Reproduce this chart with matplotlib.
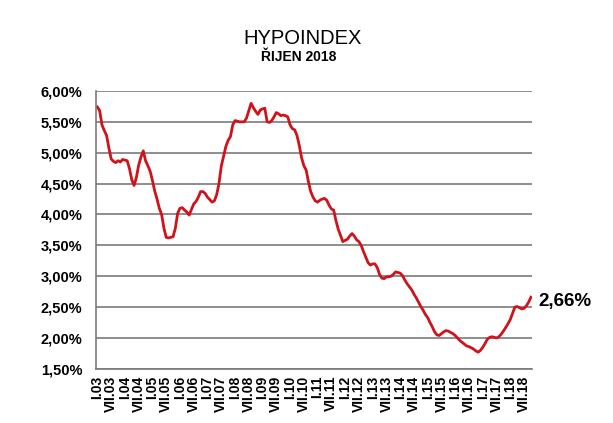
import numpy as np
import matplotlib.pyplot as plt
from matplotlib.ticker import FuncFormatter

# HYPOINDEX, monthly values I.2003 - X.2018 (in %)
y2003 = [5.74, 5.68, 5.45, 5.36, 5.28, 5.08, 4.90, 4.86, 4.84, 4.87, 4.85, 4.89]
y2004 = [4.88, 4.87, 4.74, 4.56, 4.47, 4.60, 4.80, 4.93, 5.03, 4.87, 4.79, 4.70]
y2005 = [4.55, 4.38, 4.25, 4.10, 4.00, 3.78, 3.63, 3.62, 3.63, 3.64, 3.78, 4.02]
y2006 = [4.10, 4.11, 4.07, 4.04, 3.99, 4.08, 4.17, 4.21, 4.28, 4.37, 4.37, 4.34]
y2007 = [4.28, 4.24, 4.20, 4.22, 4.32, 4.50, 4.78, 4.94, 5.10, 5.20, 5.26, 5.45]
y2008 = [5.52, 5.51, 5.50, 5.50, 5.50, 5.56, 5.68, 5.80, 5.73, 5.67, 5.62, 5.69]
y2009 = [5.71, 5.72, 5.50, 5.49, 5.52, 5.58, 5.65, 5.63, 5.60, 5.61, 5.60, 5.58]
y2010 = [5.45, 5.39, 5.37, 5.28, 5.12, 4.92, 4.79, 4.72, 4.53, 4.37, 4.28, 4.22]
y2011 = [4.20, 4.23, 4.25, 4.26, 4.23, 4.15, 4.09, 4.07, 3.90, 3.76, 3.66, 3.56]
y2012 = [3.58, 3.60, 3.65, 3.69, 3.65, 3.59, 3.56, 3.50, 3.40, 3.31, 3.22, 3.18]
y2013 = [3.20, 3.20, 3.14, 3.03, 2.97, 2.96, 2.99, 2.99, 3.00, 3.03, 3.07, 3.06]
y2014 = [3.05, 3.01, 2.94, 2.88, 2.83, 2.78, 2.71, 2.65, 2.58, 2.51, 2.45, 2.38]
y2015 = [2.33, 2.25, 2.18, 2.10, 2.05, 2.04, 2.07, 2.10, 2.12, 2.11, 2.09, 2.07]
y2016 = [2.04, 2.00, 1.96, 1.93, 1.90, 1.87, 1.86, 1.84, 1.82, 1.79, 1.77, 1.80]
y2017 = [1.85, 1.91, 1.98, 2.01, 2.02, 2.01, 2.00, 2.02, 2.06, 2.11, 2.17, 2.23]
y2018 = [2.30, 2.40, 2.50, 2.51, 2.49, 2.47, 2.48, 2.52, 2.58, 2.66]

hodnoty = (y2003 + y2004 + y2005 + y2006 + y2007 + y2008 + y2009 + y2010
           + y2011 + y2012 + y2013 + y2014 + y2015 + y2016 + y2017 + y2018)

popisky = []
for rok in range(3, 19):
    popisky.append("I.%02d" % rok)
    popisky.append("VII.%02d" % rok)

plt.rcParams['font.family'] = ['Liberation Sans', 'DejaVu Sans']

fig = plt.figure(figsize=(6.13, 4.23), dpi=100)
ax = fig.add_axes([0.157, 0.128, 0.711, 0.657])

x = np.arange(len(hodnoty))
ax.plot(x, hodnoty, color='#d0121b', lw=2.0, solid_joinstyle='round')

ax.set_xlim(-0.5, len(hodnoty) - 0.5)
ax.set_ylim(1.5, 6.0)
ax.set_yticks(np.arange(1.5, 6.01, 0.5))
ax.yaxis.set_major_formatter(FuncFormatter(lambda v, p: ("%.2f%%" % v).replace('.', ',')))
ax.set_xticks(np.arange(0, len(hodnoty), 6))
ax.set_xticklabels(popisky, rotation=90, fontsize=10, fontweight='bold')
for t in ax.get_yticklabels():
    t.set_fontweight('bold')
    t.set_fontsize(10.5)

ax.grid(axis='y', color='#7a7a7a', lw=1.2)
ax.set_axisbelow(True)
for s in ['top', 'right']:
    ax.spines[s].set_visible(False)
ax.spines['left'].set_color('#7a7a7a')
ax.spines['bottom'].set_color('#7a7a7a')
ax.spines['left'].set_linewidth(1.2)
ax.spines['bottom'].set_linewidth(1.2)
ax.tick_params(axis='y', length=0, pad=10)
ax.tick_params(axis='x', length=0, pad=5)

ax.annotate("2,66%", xy=(x[-1], hodnoty[-1]), xytext=(5, -3), textcoords='offset points',
            fontsize=13.5, fontweight='bold', va='center', ha='left', annotation_clip=False)

fig.text(0.493, 0.91, "HYPOINDEX", ha='center', va='center', fontsize=14.5)
fig.text(0.487, 0.865, "ŘIJEN 2018", ha='center', va='center', fontsize=10, fontweight='bold')

plt.savefig('out.png', dpi=100)
